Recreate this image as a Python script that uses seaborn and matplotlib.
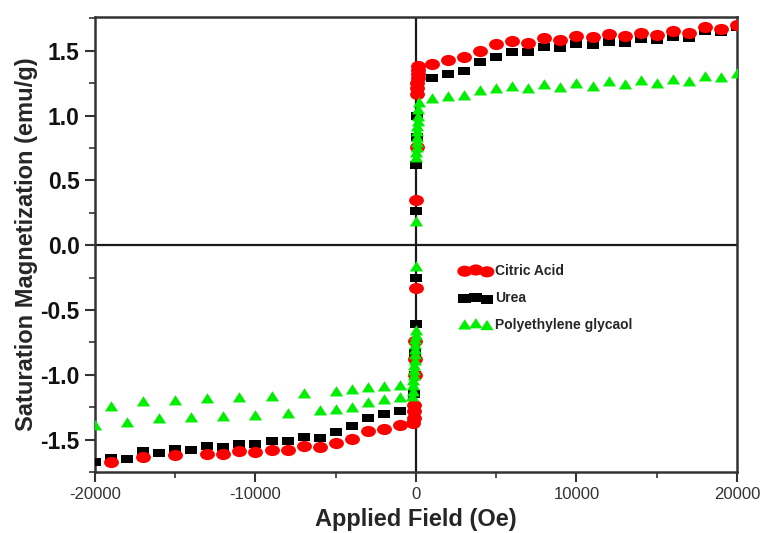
import numpy as np
import pandas as pd
import matplotlib
matplotlib.use("Agg")
import matplotlib.pyplot as plt
from matplotlib.ticker import MultipleLocator
from matplotlib.path import Path
from matplotlib.markers import MarkerStyle
import seaborn as sns

# ---------------- data ----------------
citric_x = [-19000, -17000, -15000, -13000, -12000, -11000, -10000, -9000, -8000,
            -7000, -6000, -5000, -4000, -3000, -2000, -1000,
            -160, -140, -120, -100, -80, -60, -35, -10,
            10, 35, 60, 75, 90, 105, 120, 135, 150,
            1000, 2000, 3000, 4000, 5000, 6000, 7000, 8000, 9000, 10000,
            11000, 12000, 13000, 14000, 15000, 16000, 17000, 18000, 19000, 20000]
citric_y = [-1.672, -1.636, -1.620, -1.610, -1.610, -1.590, -1.597, -1.577, -1.582,
            -1.551, -1.557, -1.526, -1.493, -1.432, -1.416, -1.390,
            -1.37, -1.33, -1.28, -1.23, -1.00, -0.88, -0.74, -0.33,
            0.35, 0.76, 1.17, 1.21, 1.25, 1.29, 1.32, 1.35, 1.38,
            1.400, 1.430, 1.450, 1.500, 1.550, 1.575, 1.560, 1.595, 1.580, 1.610,
            1.605, 1.630, 1.615, 1.640, 1.625, 1.650, 1.640, 1.680, 1.665, 1.700]

urea_x = [-20000, -19000, -18000, -17000, -16000, -15000, -14000, -13000, -12000, -11000,
          -10000, -9000, -8000, -7000, -6000, -5000, -4000, -3000, -2000, -1000,
          -120, -80, -50, -25, -10,
          10, 25, 50, 80, 120,
          1000, 2000, 3000, 4000, 5000, 6000, 7000, 8000, 9000, 10000,
          11000, 12000, 13000, 14000, 15000, 16000, 17000, 18000, 19000, 20000]
urea_y = [-1.674, -1.641, -1.646, -1.585, -1.603, -1.570, -1.582, -1.551, -1.557, -1.534,
          -1.536, -1.508, -1.513, -1.483, -1.488, -1.444, -1.398, -1.335, -1.304, -1.279,
          -1.15, -1.00, -0.83, -0.61, -0.25,
          0.26, 0.62, 0.835, 1.00, 1.22,
          1.287, 1.320, 1.340, 1.410, 1.450, 1.493, 1.493, 1.530, 1.520, 1.550,
          1.545, 1.570, 1.560, 1.590, 1.580, 1.605, 1.600, 1.650, 1.645, 1.680]

peg_x = [-20000, -19000, -18000, -17000, -16000, -15000, -14000, -13000, -12000, -11000,
         -10000, -9000, -8000, -7000, -6000, -5000, -5000, -4000, -4000, -3000, -3000,
         -2000, -2000, -1000, -1000,
         -220, -200, -180, -160, -140, -120, -100, -90, -75, -60, -50, -40, -30, -20, -8,
         8, 20, 30, 40, 50, 60, 75, 90, 100, 120, 140, 160,
         1000, 2000, 3000, 4000, 5000, 6000, 7000, 8000, 9000, 10000,
         11000, 12000, 13000, 14000, 15000, 16000, 17000, 18000, 19000, 20000]
peg_y = [-1.398, -1.245, -1.368, -1.207, -1.342, -1.199, -1.335, -1.187, -1.327, -1.176,
         -1.320, -1.169, -1.304, -1.151, -1.283, -1.136, -1.271, -1.118, -1.253, -1.100, -1.220,
         -1.092, -1.194, -1.085, -1.176,
         -1.17, -1.13, -1.09, -1.05, -1.01, -0.97, -0.93, -0.89, -0.85, -0.81, -0.77, -0.73, -0.70, -0.66, -0.17,
         0.18, 0.67, 0.71, 0.75, 0.79, 0.83, 0.87, 0.91, 0.95, 0.99, 1.04, 1.10,
         1.128, 1.140, 1.154, 1.187, 1.205, 1.223, 1.205, 1.238, 1.213, 1.243,
         1.223, 1.256, 1.238, 1.264, 1.243, 1.274, 1.256, 1.300, 1.290, 1.320]

x_major = [-20000, -10000, 0, 10000, 20000]
y_major = [-1.5, -1.0, -0.5, 0.0, 0.5, 1.0, 1.5]
x_tick_labels = ["-20000", "-10000", "0", "10000", "20000"]
y_tick_labels = ["-1.5", "-1.0", "-0.5", "0.0", "0.5", "1.0", "1.5"]

# ---------------- marker shapes (squashed, like the stretched original) ----------------
_uc = Path.unit_circle()
ellipse_marker = MarkerStyle(Path(_uc.vertices * np.array([1.0, 0.75]), _uc.codes))
rect_marker = MarkerStyle(Path([(-1, -0.7), (1, -0.7), (1, 0.7), (-1, 0.7), (-1, -0.7)],
                               [Path.MOVETO, Path.LINETO, Path.LINETO, Path.LINETO, Path.CLOSEPOLY]))
tri_marker = MarkerStyle(Path([(-1, -0.6), (1, -0.6), (0, 0.95), (-1, -0.6)],
                              [Path.MOVETO, Path.LINETO, Path.LINETO, Path.CLOSEPOLY]))

# ---------------- figure ----------------
sns.set_theme(style="white")
plt.rcParams['font.family'] = ['Liberation Sans', 'DejaVu Sans']

fig = plt.figure(figsize=(7.63, 5.33), dpi=100)
ax = fig.add_axes([0.1245, 0.1144, 0.8414, 0.8536])

ax.axhline(0, color='#1a1a1a', lw=1.6, zorder=1)
ax.axvline(0, color='#1a1a1a', lw=1.6, zorder=1)

df_u = pd.DataFrame({'H': urea_x, 'M': urea_y})
df_c = pd.DataFrame({'H': citric_x, 'M': citric_y})
df_p = pd.DataFrame({'H': peg_x, 'M': peg_y})

sns.scatterplot(data=df_u, x='H', y='M', marker=rect_marker, color='black', s=85,
                linewidth=0, ax=ax, label='Urea', zorder=3)
sns.scatterplot(data=df_c, x='H', y='M', marker=ellipse_marker, color='#ff0000', s=115,
                linewidth=0, ax=ax, label='Citric Acid', zorder=4)
sns.scatterplot(data=df_p, x='H', y='M', marker=tri_marker, color='#00ee00', s=90,
                linewidth=0, ax=ax, label='Polyethylene glycaol', zorder=5)

ax.set_xlim(-20000, 20000)
ax.set_ylim(-1.75, 1.76)
ax.set_xticks(x_major)
ax.set_xticklabels(x_tick_labels, fontsize=12, color='#333333')
ax.set_yticks(y_major)
ax.set_yticklabels(y_tick_labels, fontsize=16.5, fontweight='bold', color='#111111')
ax.xaxis.set_minor_locator(MultipleLocator(5000))
ax.yaxis.set_minor_locator(MultipleLocator(0.25))
ax.tick_params(which='major', direction='out', length=7, width=1.5, color='#333333',
               bottom=True, left=True, top=False, right=False, pad=4)
ax.tick_params(which='minor', direction='out', length=4, width=1.2, color='#333333',
               bottom=True, left=True, top=False, right=False)

for sp in ax.spines.values():
    sp.set_color('#333333')
    sp.set_linewidth(1.8)

ax.set_xlabel('Applied Field (Oe)', fontsize=17, fontweight='bold', labelpad=4)
ax.set_ylabel('Saturation Magnetization (emu/g)', fontsize=17, fontweight='bold', labelpad=2)

h, l = ax.get_legend_handles_labels()
order = [l.index('Citric Acid'), l.index('Urea'), l.index('Polyethylene glycaol')]
ax.legend([h[i] for i in order], [l[i] for i in order], loc='upper left',
          bbox_to_anchor=(0.55, 0.485), frameon=False, scatterpoints=3,
          prop={'weight': 'bold', 'size': 10}, labelspacing=0.95,
          handletextpad=0.3, handlelength=2.2)

fig.savefig('out.png', dpi=100)
